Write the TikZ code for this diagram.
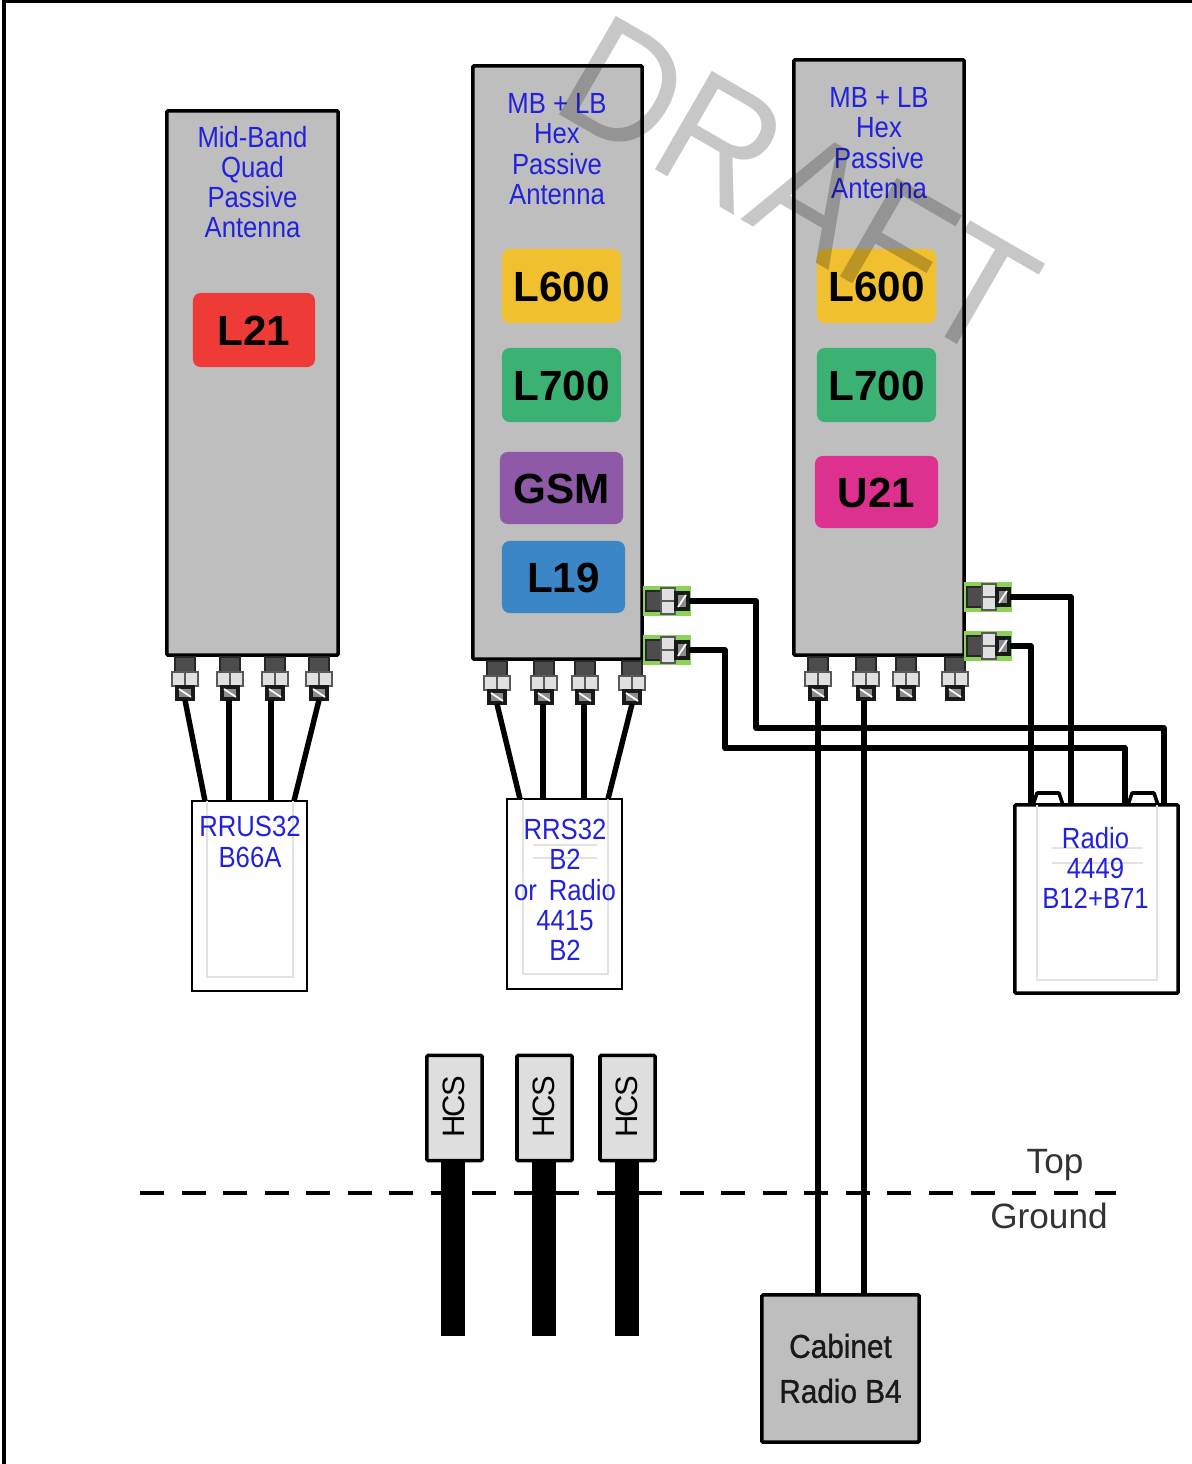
\documentclass[tikz,border=0pt]{standalone}
\usepackage{fontspec}
\setmainfont{Liberation Sans}
\newfontfamily\narrowfont[FakeStretch=.88]{Liberation Sans}
\newfontfamily\cabinetfont[FakeStretch=.9,FakeBold=.9]{Liberation Sans}
\newfontfamily\draftfont[FakeStretch=.93]{Liberation Sans}
\usetikzlibrary{calc}
\definecolor{antgray}{HTML}{BEBEBE}
\definecolor{hcsgray}{HTML}{DEDEDE}
\definecolor{labelblue}{HTML}{2222DD}
\definecolor{ghost}{HTML}{E2E2E2}
\definecolor{padgreen}{HTML}{8CD25A}
\definecolor{chipred}{HTML}{EE3B38}
\definecolor{chipyellow}{HTML}{F0C02F}
\definecolor{chipgreen}{HTML}{3BB273}
\definecolor{chippurple}{HTML}{8E5AA8}
\definecolor{chipblue}{HTML}{3A86C6}
\definecolor{chippink}{HTML}{DE318F}
\tikzset{
  antenna/.style={draw,fill=antgray,line width=1pt,rounded corners=.3pt,inner sep=0pt},
  chip/.style={rounded corners=2.2pt,inner sep=0pt,text height=9.1pt,font=\fontsize{12}{14}\selectfont\bfseries},
  bluetext/.style={text=labelblue,align=center,inner sep=0pt,font=\narrowfont\fontsize{8.3}{8.6}\selectfont},
  radiobox/.style={draw,fill=white,line width=.5pt,inner sep=0pt},
  hcsbox/.style={draw,fill=hcsgray,line width=1pt,rounded corners=.3pt,inner sep=0pt,minimum height=1.05cm},
  cable/.style={line width=1.55pt,line join=round},
  pad/.style={fill=padgreen,inner sep=0pt,minimum width=.48cm,minimum height=.3cm},
  jackpic/.pic={
    \filldraw[fill=black!70,draw=black!85,line width=.4pt] (-10,0) rectangle (10,15);
    \filldraw[fill=black!12,draw=black!65,line width=.7pt] (-13,15) rectangle (0,29);
    \filldraw[fill=black!12,draw=black!65,line width=.7pt] (0,15) rectangle (13,29);
    \filldraw[fill=black!45,draw=black!90,line width=1pt] (-8,30) rectangle (8,42);
    \draw[white,line width=.5pt] (-6,32)--(6,40);
    \coordinate (-end) at (0,43);
  }
}
\begin{document}
\begin{tikzpicture}[x=.01cm,y=-.01cm]
\useasboundingbox (0,0) rectangle (1192,1464);
\draw[line width=1pt] (4,1464)--(4,1)--(1192,1);
% antennas
\node[antenna,minimum width=1.71cm,minimum height=5.44cm] (ant1) at (252.5,383) {};
\node[antenna,minimum width=1.69cm,minimum height=5.93cm] (ant2) at (557.5,362.5) {};
\node[antenna,minimum width=1.70cm,minimum height=5.95cm] (ant3) at (879,357.5) {};
\node[bluetext] (ant1text) at (252.5,182) {Mid-Band\\Quad\\Passive\\Antenna};
\node[bluetext] (ant2text) at (557,149) {MB + LB\\Hex\\Passive\\Antenna};
\node[bluetext] (ant3text) at (879,143) {MB + LB\\Hex\\Passive\\Antenna};
% bands
\node[chip,fill=chipred,minimum width=1.22cm,minimum height=.74cm] (l21) at (254,330) {L21};
\node[chip,fill=chipyellow,minimum width=1.19cm,minimum height=.74cm] (l600a) at (561.5,286) {L600};
\node[chip,fill=chipgreen,minimum width=1.19cm,minimum height=.74cm] (l700a) at (561.5,385) {L700};
\node[chip,fill=chippurple,minimum width=1.23cm,minimum height=.72cm] (gsm) at (561.5,488) {GSM};
\node[chip,fill=chipblue,minimum width=1.23cm,minimum height=.72cm] (l19) at (563.5,577) {L19};
\node[chip,fill=chipyellow,minimum width=1.19cm,minimum height=.74cm] (l600b) at (876.5,286) {L600};
\node[chip,fill=chipgreen,minimum width=1.19cm,minimum height=.74cm] (l700b) at (876.5,385) {L700};
\node[chip,fill=chippink,minimum width=1.23cm,minimum height=.72cm] (u21) at (876.5,492) {U21};
% radios
\node[radiobox,minimum width=1.15cm,minimum height=1.90cm] (rrus) at (249.5,896) {};
\node[radiobox,minimum width=1.15cm,minimum height=1.90cm] (rrs) at (564.5,894) {};
\draw[black,line width=1pt,line join=round,fill=white] (1033,805)--(1037,793)--(1059,793)--(1063,805);
\draw[black,line width=1pt,line join=round,fill=white] (1128,805)--(1132,793)--(1154,793)--(1158,805);
\node[radiobox,line width=1pt,rounded corners=.3pt,minimum width=1.63cm,minimum height=1.88cm] (radio) at (1096.5,899) {};
\draw[ghost,line width=.5pt] (207,801)--(207,977)--(293,977)--(293,801);
\draw[ghost,line width=.5pt] (523,799)--(523,974)--(608,974)--(608,799);
\draw[ghost,line width=.5pt] (1037,805)--(1037,980)--(1157,980)--(1157,805);
\foreach \y in {845,858} \draw[ghost,line width=.5pt] (533,\y)--(597,\y);
\foreach \y in {848,863} \draw[ghost,line width=.5pt] (1052,\y)--(1143,\y);
\node[bluetext] (rrustext) at (250,842) {RRUS32\\B66A};
\node[bluetext] (rrstext) at (565,890) {RRS32\\B2\\or\,\ Radio\\4415\\B2};
\node[bluetext] (radiotext) at (1095.5,868) {Radio\\4449\\B12+B71};
% connectors
\foreach \n/\x in {1/185,2/230,3/275,4/319} \pic (qa\n) at (\x,657) {jackpic};
\foreach \n/\x in {1/497,2/544,3/585,4/632} \pic (qb\n) at (\x,661) {jackpic};
\foreach \n/\x in {1/818,2/866,3/906,4/955} \pic (qc\n) at (\x,657) {jackpic};
\node[pad] (padb1) at (667,601) {};
\node[pad] (padb2) at (667,650) {};
\node[pad] (padc1) at (988,597) {};
\node[pad] (padc2) at (988,646) {};
\pic[rotate=90] (sb1) at (646,601) {jackpic};
\pic[rotate=90] (sb2) at (646,650) {jackpic};
\pic[rotate=90] (sc1) at (967,597) {jackpic};
\pic[rotate=90] (sc2) at (967,646) {jackpic};
% cabinet and HCS
\node[antenna,minimum width=1.57cm,minimum height=1.47cm,align=center,text=black!90,font=\cabinetfont\fontsize{9.4}{12.8}\selectfont] (cabinet) at (840.5,1368.5) {Cabinet\\Radio B4};
\foreach \n/\x in {1/454.5,2/544.5,3/627.5} {
  \node[hcsbox,minimum width=.55cm] (hcs\n) at (\x,1108) {};
  \node[rotate=90,inner sep=0pt,font=\fontsize{8.8}{10}\selectfont\addfontfeature{LetterSpace=-6}] (hcs\n text) at (\x-.5,1107) {HCS};
}
% wires
\coordinate (ra1) at (205,801); \coordinate (ra2) at (229,801); \coordinate (ra3) at (271,801); \coordinate (ra4) at (294,801);
\coordinate (rb1) at (520,799); \coordinate (rb2) at (543,799); \coordinate (rb3) at (584,799); \coordinate (rb4) at (608,799);
\foreach \n in {1,4} {
  \draw[cable] (qa\n-end)--(ra\n);
  \draw[cable] (qb\n-end)--(rb\n);
}
\foreach \n in {2,3} {
  \draw[cable] (qa\n-end -| ra\n)--(ra\n);
  \draw[cable] (qb\n-end -| rb\n)--(rb\n);
}
\coordinate (ra) at (1031,805); \coordinate (rb) at (1071,805); \coordinate (rc) at (1125,805); \coordinate (rd) at (1164,805);
\draw[cable] (sb1-end)--(756,601)--(756,728)--(1164,728)--(rd);
\draw[cable] (sb2-end)--(725,650)--(725,748)--(1125,748)--(rc);
\draw[cable] (sc1-end)--(1071,597)--(rb);
\draw[cable] (sc2-end)--(1031,646)--(ra);
\draw[cable] (qc1-end)--(qc1-end |- cabinet.north);
\draw[cable] (qc2-end -| 864,0)--(864,1295);
% top and ground
\draw[line width=1.15pt,dash pattern=on .24cm off .175cm] (140,1193)--(1116,1193);
\foreach \n/\x in {1/453,2/544,3/626.5} \fill (\x-12,1161) rectangle (\x+12,1336);
\node[inner sep=0pt,text=black!80,font=\fontsize{10}{12}\selectfont] (toplabel) at (1055,1165) {Top};
\node[inner sep=0pt,text=black!80,font=\fontsize{10}{12}\selectfont] (groundlabel) at (1049,1216) {Ground};
% watermark
\node[anchor=base west,rotate=-30,inner sep=0pt,opacity=.22,font=\draftfont\fontsize{47}{50}\selectfont] (draft) at (548,108) {DRAFT};
\end{tikzpicture}
\end{document}
